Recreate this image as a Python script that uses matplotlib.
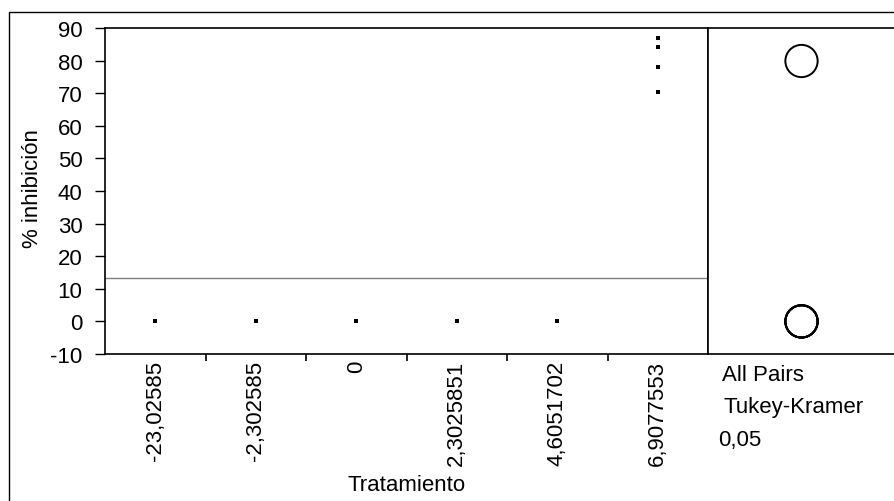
import matplotlib
matplotlib.use("Agg")
import matplotlib.pyplot as plt
from matplotlib.patches import Rectangle
import numpy as np

plt.rcParams['font.family'] = ['Liberation Sans', 'DejaVu Sans']

# Data
categories = ["-23,02585", "-2,302585", "0", "2,3025851", "4,6051702", "6,9077553"]
values = [
    [0, 0, 0, 0],
    [0, 0, 0, 0],
    [0, 0, 0, 0],
    [0, 0, 0, 0],
    [0, 0, 0, 0],
    [86.8, 84.3, 77.9, 70.5],
]
yticks = [-10, 0, 10, 20, 30, 40, 50, 60, 70, 80, 90]
panel_text = ["All Pairs", "Tukey-Kramer", "0,05"]

W, H = 895, 502
FS = 16
fig = plt.figure(figsize=(W / 100, H / 100), dpi=100)

def fx(px):
    return px / W

def fy(py):
    return 1 - py / H

# outer border
fig.patches.append(Rectangle((fx(9), fy(600)), fx(1000), fy(13) - fy(600),
                             transform=fig.transFigure, fill=False,
                             edgecolor='black', linewidth=1.0))

ax = fig.add_axes([fx(105), fy(355), fx(708) - fx(105), fy(29) - fy(355)])
axr = fig.add_axes([fx(708), fy(355), fx(895) - fx(708), fy(29) - fy(355)])

n = len(categories)
for i, vals in enumerate(values):
    ax.scatter(np.full(len(vals), i), vals, marker='s', s=6, color='black',
               linewidths=0, zorder=3)

all_vals = np.concatenate([np.asarray(v, float) for v in values])
grand_mean = all_vals.mean()
ax.axhline(grand_mean, color='#808080', linewidth=1.0, zorder=2)

ax.set_xlim(-0.5, n - 0.5)
ax.set_ylim(-10, 90)
ax.set_yticks(yticks)
ax.set_yticklabels([str(t) for t in yticks], fontsize=FS)
ax.tick_params(axis='y', direction='out', length=7.2, width=1.0, pad=9)

ax.set_xticks(np.arange(n))
ax.set_xticklabels(categories, rotation=90, fontsize=FS)
ax.tick_params(axis='x', length=0, pad=4.3)
ax.set_xticks(np.arange(n - 1) + 0.5, minor=True)
ax.tick_params(axis='x', which='minor', direction='out', length=5, width=1.2)

for s in ax.spines.values():
    s.set_linewidth(1.2)

ax.set_xlabel("Tratamiento", fontsize=FS)
ax.xaxis.label.set_va('baseline')
ax.xaxis.set_label_coords(0.5 + (407 - 406.5) / 603, (355 - 491) / 326)
ax.set_ylabel("% inhibición", fontsize=FS)
ax.yaxis.label.set_va('center')
ax.yaxis.set_label_coords((33 - 105) / 603, (355 - 189) / 326)

# comparison circles panel
means = [np.mean(v) for v in values]
axr.scatter(np.full(len(means), 0.5), means, s=540, facecolors='none',
            edgecolors='black', linewidths=1.4, zorder=3)
axr.set_xlim(0, 1)
axr.set_ylim(-10, 90)
axr.set_xticks([])
axr.set_yticks([])
axr.spines['right'].set_visible(False)
for s in ['left', 'top', 'bottom']:
    axr.spines[s].set_linewidth(1.2)

ypos = [381, 413, 446]
xpos = [722, 724, 718]
for t, xp, yp in zip(panel_text, xpos, ypos):
    fig.text(fx(xp), fy(yp), t, fontsize=FS, ha='left', va='baseline')

fig.savefig("out.png", dpi=100)
